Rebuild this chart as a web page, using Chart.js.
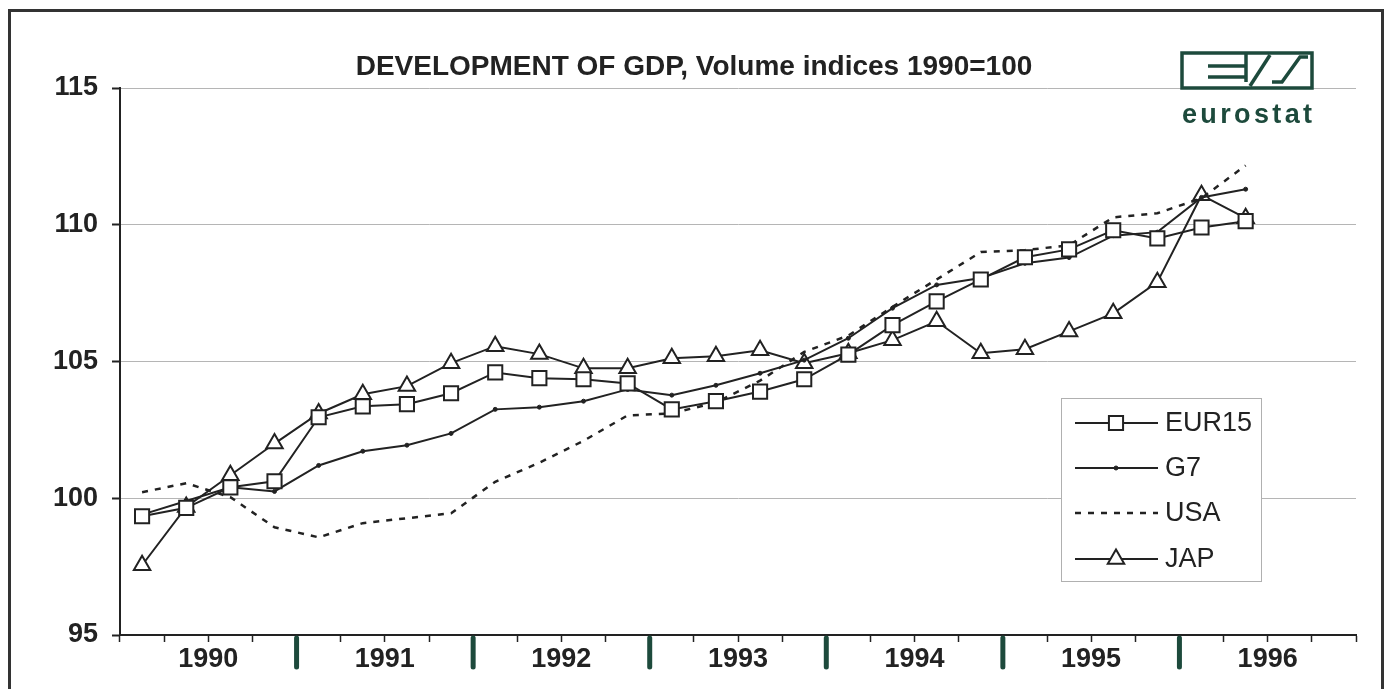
<!DOCTYPE html>
<html>
<head>
<meta charset="utf-8">
<title>Development of GDP</title>
<script src="https://cdn.jsdelivr.net/npm/chart.js"></script>
<style>
    body { margin: 0; background: #fff; }
    #wrap { position: relative; width: 1388px; height: 689px; overflow: hidden; background: #fff; }
    #frame { position: absolute; left: 8px; top: 9px; width: 1370px; height: 700px; border: 3px solid #333; }
    #logo { position: absolute; left: 1180px; top: 51px; }
    #logo text { font-family: "Liberation Sans", Arial, sans-serif; font-weight: bold; font-size: 27px; }
</style>
</head>
<body>
<div id="wrap">
    <canvas id="myChart" width="1388" height="689"></canvas>
    <div id="frame"></div>
    <svg id="logo" width="136" height="78" viewBox="0 0 136 78">
        <g fill="none" stroke="#1d4a3c" stroke-width="3.5">
            <rect x="2" y="2" width="130" height="35"/>
            <line x1="28" y1="15" x2="66" y2="15"/>
            <line x1="28" y1="26" x2="66" y2="26"/>
            <line x1="66" y1="2" x2="66" y2="31"/>
            <line x1="70" y1="35" x2="90" y2="4"/>
            <polyline points="92,31 102,31 120,6 128,6"/>
        </g>
        <text x="2" y="72" textLength="130" lengthAdjust="spacing" fill="#1d4a3c">eurostat</text>
    </svg>
</div>
<script>
var titulo = 'DEVELOPMENT OF GDP, Volume indices 1990=100';
var anos = ['1990', '1991', '1992', '1993', '1994', '1995', '1996'];
var ticksY = [95, 100, 105, 110, 115];

// indices trimestrais, 1990 Q1 ate 1996 Q2
var eur15 = [99.34, 99.65, 100.4, 100.62, 102.96, 103.36, 103.44, 103.84, 104.6, 104.39,
    104.35, 104.2, 103.25, 103.55, 103.9, 104.35, 105.25, 106.33, 107.2, 108.0,
    108.81, 109.1, 109.8, 109.5, 109.9, 110.13];
var g7 = [99.4, 99.9, 100.4, 100.25, 101.2, 101.72, 101.94, 102.37, 103.25, 103.33,
    103.55, 103.98, 103.77, 104.13, 104.57, 105.05, 105.85, 106.95, 107.8, 108.05,
    108.59, 108.8, 109.6, 109.73, 111.0, 111.3];
var usa = [100.22, 100.55, 100.04, 98.94, 98.57, 99.09, 99.27, 99.45, 100.6, 101.3,
    102.1, 103.03, 103.1, 103.5, 104.3, 105.35, 105.95, 107.0, 108.0, 109.0,
    109.07, 109.25, 110.27, 110.42, 110.97, 112.17];
var jap = [97.55, 99.68, 100.84, 102.0, 103.1, 103.8, 104.1, 104.94, 105.56, 105.27,
    104.75, 104.75, 105.12, 105.19, 105.41, 104.94, 105.3, 105.78, 106.47, 105.3,
    105.45, 106.1, 106.76, 107.9, 111.08, 110.24];

var trimestres = [];
for (var a = 0; a < anos.length; a++) {
    for (var q = 1; q <= 4; q++) {
        trimestres.push(anos[a] + ' Q' + q);
    }
}

var preto = '#222';
var verde = '#1d4a3c';

var extras = {
    id: 'extras',
    afterDraw: function (chart) {
        var ctx = chart.ctx;
        var x = chart.scales.x;
        var area = chart.chartArea;

        ctx.save();
        ctx.fillStyle = preto;
        ctx.font = 'bold 28px "Liberation Sans", Arial, sans-serif';
        ctx.textAlign = 'center';
        ctx.textBaseline = 'middle';
        ctx.fillText(titulo, chart.width / 2, 67);

        // marcas grossas entre os anos
        var passo = x.getPixelForValue(1) - x.getPixelForValue(0);
        ctx.strokeStyle = verde;
        ctx.lineWidth = 5;
        ctx.lineCap = 'round';
        for (var i = 4; i < trimestres.length; i += 4) {
            var px = x.getPixelForValue(i) - passo / 2;
            ctx.beginPath();
            ctx.moveTo(px, area.bottom + 3);
            ctx.lineTo(px, area.bottom + 32);
            ctx.stroke();
        }

        // legenda
        ctx.lineCap = 'butt';
        ctx.fillStyle = '#fff';
        ctx.fillRect(1061, 398, 200, 183);
        ctx.strokeStyle = '#b0b0b0';
        ctx.lineWidth = 1;
        ctx.strokeRect(1061.5, 398.5, 200, 183);
        var linhas = [423, 468, 513, 559];
        chart.data.datasets.forEach(function (ds, k) {
            var y = linhas[k];
            ctx.strokeStyle = ds.borderColor;
            ctx.lineWidth = ds.borderWidth;
            ctx.setLineDash(ds.borderDash || []);
            ctx.beginPath();
            ctx.moveTo(1075, y);
            ctx.lineTo(1158, y);
            ctx.stroke();
            ctx.setLineDash([]);
            if (ds.pointRadius > 0) {
                ctx.fillStyle = ds.pointBackgroundColor;
                ctx.strokeStyle = ds.pointBorderColor;
                ctx.lineWidth = ds.pointBorderWidth;
                Chart.helpers.drawPoint(ctx, {
                    pointStyle: ds.pointStyle,
                    radius: ds.pointRadius,
                    rotation: 0,
                    borderWidth: ds.pointBorderWidth
                }, 1116, y);
            }
            ctx.fillStyle = preto;
            ctx.font = '27px "Liberation Sans", Arial, sans-serif';
            ctx.textAlign = 'left';
            ctx.textBaseline = 'middle';
            ctx.fillText(ds.label, 1165, y + 1);
        });
        ctx.restore();
    }
};

const ctx = document.getElementById('myChart');
new Chart(ctx, {
    type: 'line',
    data: {
        labels: trimestres,
        datasets: [{
            label: 'EUR15',
            data: eur15,
            borderColor: preto,
            borderWidth: 2,
            pointStyle: 'rect',
            pointRadius: 10,
            pointBackgroundColor: '#fff',
            pointBorderColor: preto,
            pointBorderWidth: 2
        }, {
            label: 'G7',
            data: g7,
            borderColor: preto,
            borderWidth: 2,
            pointStyle: 'circle',
            pointRadius: 2,
            pointBackgroundColor: preto,
            pointBorderColor: preto,
            pointBorderWidth: 1
        }, {
            label: 'USA',
            data: usa,
            borderColor: preto,
            borderWidth: 2.5,
            borderDash: [6, 7],
            pointRadius: 0
        }, {
            label: 'JAP',
            data: jap,
            borderColor: preto,
            borderWidth: 2,
            pointStyle: 'triangle',
            pointRadius: 9.5,
            pointBackgroundColor: '#fff',
            pointBorderColor: preto,
            pointBorderWidth: 2
        }]
    },
    options: {
        responsive: false,
        animation: false,
        devicePixelRatio: 1,
        layout: { padding: { top: 88, right: 32, bottom: 0, left: 0 } },
        plugins: {
            legend: { display: false },
            tooltip: { enabled: false }
        },
        scales: {
            x: {
                type: 'category',
                offset: true,
                afterFit: function (scale) { scale.height = 54; },
                border: { color: preto, width: 2 },
                grid: {
                    offset: true,
                    drawOnChartArea: false,
                    tickLength: 7,
                    tickColor: preto,
                    tickWidth: 1.5
                },
                ticks: {
                    autoSkip: false,
                    maxRotation: 0,
                    labelOffset: 22,
                    padding: 1,
                    color: preto,
                    font: { family: '"Liberation Sans", Arial, sans-serif', size: 27, weight: 'bold' },
                    callback: function (v, i) {
                        return i % 4 === 1 ? anos[Math.floor(i / 4)] : '';
                    }
                }
            },
            y: {
                min: ticksY[0],
                max: ticksY[ticksY.length - 1],
                afterFit: function (scale) { scale.width = 120; },
                border: { color: preto, width: 2 },
                grid: {
                    color: '#b5b5b5',
                    lineWidth: 1,
                    tickLength: 8,
                    tickColor: preto,
                    tickWidth: 2
                },
                ticks: {
                    stepSize: 5,
                    padding: 14,
                    color: preto,
                    font: { family: '"Liberation Sans", Arial, sans-serif', size: 27, weight: 'bold' }
                }
            }
        }
    },
    plugins: [extras]
});
</script>
</body>
</html>
